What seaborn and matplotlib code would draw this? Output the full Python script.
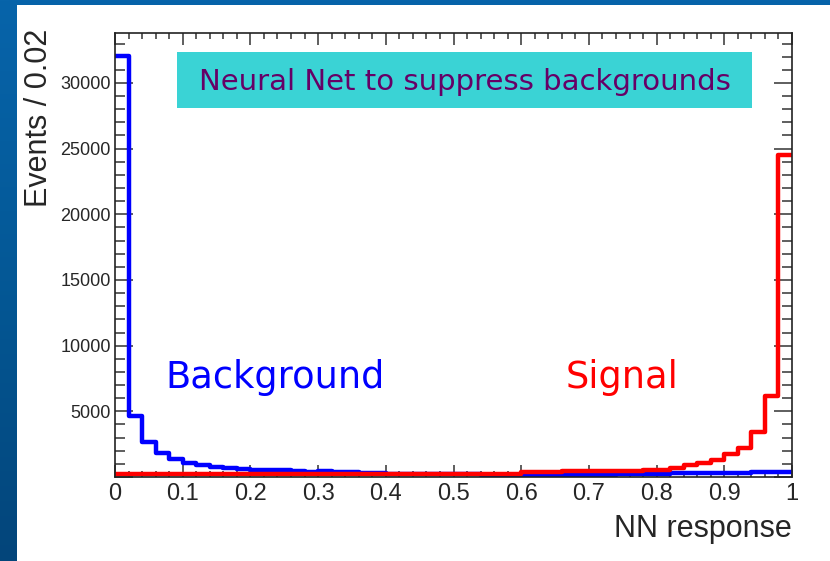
import numpy as np
import pandas as pd
import matplotlib
matplotlib.use("Agg")
import matplotlib.pyplot as plt
import seaborn as sns
from matplotlib.ticker import MultipleLocator, FuncFormatter
from matplotlib.patches import Rectangle
from matplotlib.colors import LinearSegmentedColormap

# ---- data ----
bin_edges = np.linspace(0.0, 1.0, 51)  # 50 bins of width 0.02
background_counts = [32050, 4670, 2640, 1810, 1380, 1050, 930, 775, 670, 590,
                     560, 540, 500, 470, 380, 420, 380, 350, 340, 330,
                     250, 240, 230, 220, 210, 200, 200, 190, 180, 180,
                     170, 170, 170, 175, 175, 175, 175, 235, 235, 235,
                     240, 290, 290, 290, 290, 290, 290, 400, 400, 400]
signal_counts = [250, 250, 250, 250, 250, 250, 250, 250, 250, 250,
                 250, 250, 250, 250, 250, 250, 250, 250, 250, 250,
                 250, 250, 250, 250, 250, 250, 250, 250, 250, 250,
                 350, 350, 350, 420, 420, 420, 420, 480, 480, 530,
                 570, 690, 900, 1070, 1330, 1755, 2210, 3440, 6140, 24520]
title_text = "Neural Net to suppress backgrounds"
x_label = "NN response"
y_label = "Events / 0.02"

centers = (bin_edges[:-1] + bin_edges[1:]) / 2
df_bkg = pd.DataFrame({"x": centers, "w": background_counts})
df_sig = pd.DataFrame({"x": centers, "w": signal_counts})

sns.set_style("ticks")
plt.rcParams["font.family"] = ["Liberation Sans", "DejaVu Sans"]

W, H = 830, 561
fig = plt.figure(figsize=(W / 100, H / 100), dpi=100)

# slide background
bg = fig.add_axes([0, 0, 1, 1], zorder=-10)
grad = np.linspace(0, 1, 256).reshape(-1, 1)
cmap = LinearSegmentedColormap.from_list("slide", ["#0764aa", "#045896", "#03457a"])
bg.imshow(grad, aspect="auto", cmap=cmap, extent=[0, 1, 0, 1])
bg.set_axis_off()
fig.patches.append(Rectangle((17 / W, 0), 1 - 17 / W, 1 - 5 / H, transform=fig.transFigure,
                             facecolor="white", edgecolor="none", zorder=-5))

ax = fig.add_axes([115 / W, 1 - 477 / H, 677 / W, (477 - 33.3) / H])
ax.set_facecolor("white")

sns.histplot(data=df_bkg, x="x", weights="w", binwidth=0.02, binrange=(0, 1),
             element="step", fill=False, color="#0000ff", linewidth=3.2, ax=ax)
sns.histplot(data=df_sig, x="x", weights="w", binwidth=0.02, binrange=(0, 1),
             element="step", fill=False, color="#ff0000", linewidth=3.2, ax=ax)

ax.set_xlim(0, 1)
ax.set_ylim(0, 33780)

ax.xaxis.set_major_locator(MultipleLocator(0.1))
ax.xaxis.set_minor_locator(MultipleLocator(0.02))
ax.yaxis.set_major_locator(MultipleLocator(5000))
ax.yaxis.set_minor_locator(MultipleLocator(1000))
ax.xaxis.set_major_formatter(FuncFormatter(lambda v, p: "%g" % round(v, 2)))
ax.yaxis.set_major_formatter(FuncFormatter(lambda v, p: "" if v < 1 else "%d" % v))

ax.tick_params(axis="both", which="both", direction="in", top=True, right=True,
               color="#333333", width=1.1)
ax.tick_params(axis="x", which="major", length=8.6, labelsize=17, pad=4)
ax.tick_params(axis="x", which="minor", length=4.3)
ax.tick_params(axis="y", which="major", length=13, labelsize=13, pad=3)
ax.tick_params(axis="y", which="minor", length=7)
for s in ax.spines.values():
    s.set_linewidth(1.2)
    s.set_color("#222222")

ax.set_xlabel(x_label, fontsize=22, loc="right")
ax.set_ylabel(y_label, fontsize=22, loc="top")
ax.xaxis.set_label_coords(1.0, -0.083)
ax.yaxis.set_label_coords(-0.0895, 1.01)
ax.xaxis.label.set_va("top")

# title box
ax.add_patch(Rectangle((0.0916, 0.8316), 0.8493, 0.1262, transform=ax.transAxes,
                       facecolor="#3ad3d5", edgecolor="none", zorder=3))
ax.text(0.0916 + 0.8493 / 2, 0.8316 + 0.1262 / 2 - 0.004, title_text, transform=ax.transAxes,
        ha="center", va="center", fontsize=21, color="#660066", family="DejaVu Sans", zorder=4)

ax.text(0.074, 0.225, "Background", transform=ax.transAxes, ha="left", va="center",
        fontsize=26.5, color="#0000ff", family="DejaVu Sans")
ax.text(0.665, 0.225, "Signal", transform=ax.transAxes, ha="left", va="center",
        fontsize=26.5, color="#ff0000", family="DejaVu Sans")

fig.savefig("out.png", dpi=100)
